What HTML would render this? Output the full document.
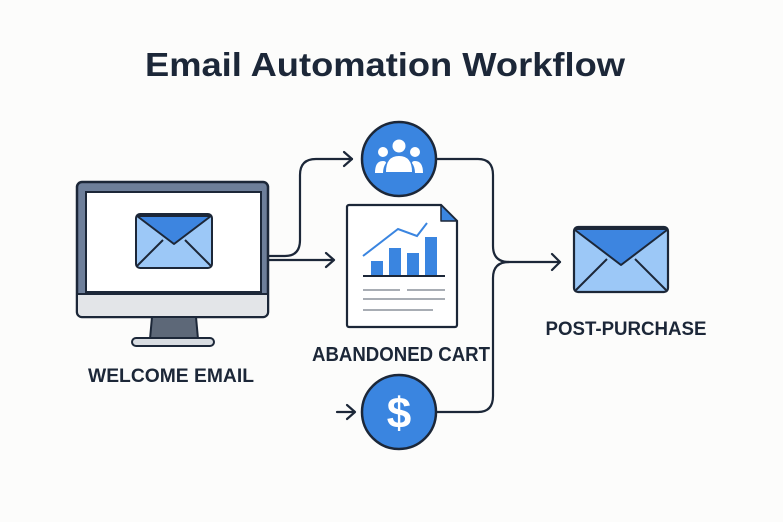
<!DOCTYPE html>
<html><head><meta charset="utf-8"><style>
html,body{margin:0;padding:0;background:#fcfcfb;}
svg{display:block;}
text{font-family:"Liberation Sans",sans-serif;font-weight:bold;fill:#1c2738;}
</style></head><body>
<svg width="783" height="522" viewBox="0 0 783 522" xmlns="http://www.w3.org/2000/svg">
<rect width="783" height="522" fill="#fcfcfb"/>
<text x="385" y="76" font-size="33" text-anchor="middle" textLength="480" lengthAdjust="spacingAndGlyphs">Email Automation Workflow</text>

<rect x="77" y="182" width="191" height="135" rx="5" fill="#6e7f9a" stroke="#1c2738" stroke-width="2.5"/>
<rect x="86" y="192" width="175" height="100" fill="#fff" stroke="#1c2738" stroke-width="2"/>
<path d="M78 294 H267 V312 a4 4 0 0 1 -4 4 H82 a4 4 0 0 1 -4 -4Z" fill="#e3e5e8"/>
<line x1="78" y1="294" x2="267" y2="294" stroke="#1c2738" stroke-width="2"/>
<path d="M152 317 L196 317 L198 339 L150 339Z" fill="#5d6878" stroke="#1c2738" stroke-width="2"/>
<rect x="132" y="338" width="82" height="8" rx="4" fill="#d9dde2" stroke="#1c2738" stroke-width="2"/>
<rect x="136" y="214" width="76" height="54" rx="4" fill="#9cc8f7" stroke="#1c2738" stroke-width="2"/>
<path d="M137 216 L174 244 L211 216Z" fill="#3d85e0" stroke="#1c2738" stroke-width="2" stroke-linejoin="round"/>
<path d="M137 266 L163 240 M211 266 L185 240" stroke="#1c2738" stroke-width="2"/>
<text x="171" y="382" font-size="19" text-anchor="middle" textLength="166" lengthAdjust="spacingAndGlyphs">WELCOME EMAIL</text>

<g fill="none" stroke="#1c2738" stroke-width="2.2" stroke-linecap="round" stroke-linejoin="round">
<path d="M268 256 H285 Q300 256 300 240 V175 Q300 159 316 159 H352"/>
<path d="M344 152 L352 159 L344 166"/>
<path d="M268 260 H333"/>
<path d="M326 253 L334 260 L326 267"/>
<path d="M337 412 H354"/>
<path d="M347 405 L355 412 L347 419"/>
<path d="M436 159 H478 Q493 159 493 175 V246 Q493 262 509 262 H560"/>
<path d="M436 412 H478 Q493 412 493 396 V278 Q493 262 509 262"/>
<path d="M552 254 L560 262 L552 270"/>
</g>

<circle cx="399" cy="159" r="37" fill="#3a85e0" stroke="#1c2738" stroke-width="2.5"/>
<g fill="#fff">
<circle cx="399" cy="146" r="6.5"/>
<path d="M386 172 Q386 156 399 156 Q412 156 412 172Z"/>
<circle cx="383" cy="152" r="5"/>
<path d="M375 173 Q375 161 383 161 Q386 161 386 163 Q383 167 383 173Z"/>
<circle cx="415" cy="152" r="5"/>
<path d="M423 173 Q423 161 415 161 Q412 161 412 163 Q415 167 415 173Z"/>
</g>

<path d="M349 205 H441 L457 221 V325 a2 2 0 0 1 -2 2 H349 a2 2 0 0 1 -2 -2 V207 a2 2 0 0 1 2 -2Z" fill="#fff" stroke="#1c2738" stroke-width="2.2"/>
<path d="M441 205 V221 H457Z" fill="#3a85e0" stroke="#1c2738" stroke-width="1.5" stroke-linejoin="round"/>
<g fill="#3a85e0">
<rect x="371" y="261" width="12" height="14"/>
<rect x="389" y="248" width="12" height="27"/>
<rect x="407" y="253" width="12" height="22"/>
<rect x="425" y="237" width="12" height="38"/>
</g>
<path d="M363 256 L398 229 L417 236 L427 223" fill="none" stroke="#3a85e0" stroke-width="2"/>
<line x1="363" y1="276" x2="445" y2="276" stroke="#1c2738" stroke-width="2"/>
<g stroke="#a8adb4" stroke-width="2">
<line x1="363" y1="290" x2="400" y2="290"/><line x1="407" y1="290" x2="445" y2="290"/>
<line x1="363" y1="299" x2="445" y2="299"/>
<line x1="363" y1="310" x2="433" y2="310"/>
</g>
<text x="401" y="361" font-size="20" text-anchor="middle" textLength="178" lengthAdjust="spacingAndGlyphs">ABANDONED CART</text>

<circle cx="399" cy="412" r="37" fill="#3a85e0" stroke="#1c2738" stroke-width="2.5"/>
<text x="399" y="428" font-size="44" text-anchor="middle" style="fill:#fff;font-weight:bold">$</text>

<rect x="574" y="227" width="94" height="65" rx="4" fill="#9cc8f7" stroke="#1c2738" stroke-width="2.2"/>
<path d="M575 230 L621 265 L667 230 L667 229 H575Z" fill="#3d85e0" stroke="#1c2738" stroke-width="2" stroke-linejoin="round"/>
<path d="M576 290 L607 259 M666 290 L635 259" stroke="#1c2738" stroke-width="2"/>
<text x="626" y="335" font-size="19" text-anchor="middle" textLength="161" lengthAdjust="spacingAndGlyphs">POST-PURCHASE</text>
</svg>
</body></html>
